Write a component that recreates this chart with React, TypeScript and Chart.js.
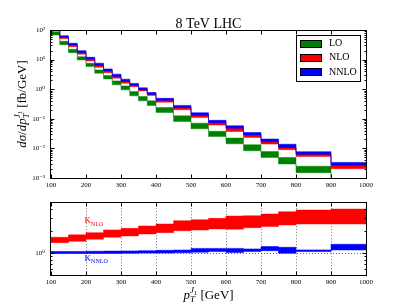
import React, { useEffect, useRef } from "react";
import { Chart, registerables } from "chart.js";
Chart.register(...registerables);

const SERIF = "'Liberation Serif', 'DejaVu Serif', 'Times New Roman', serif";

// ---------------- DATA ----------------
const binEdges = [100, 125, 150, 175, 200, 225, 250, 275, 300, 325, 350, 375, 400, 450, 500, 550, 600, 650, 700, 750, 800, 900, 1000];

const loLow = [67.8, 31.9, 17.2, 9.75, 5.79, 3.47, 2.23, 1.40, 0.95, 0.596, 0.404, 0.281, 0.163, 0.081, 0.0459, 0.0253, 0.0143, 0.0083, 0.00495, 0.00297, 0.00151, 0.00055];
const loHigh = [87.7, 41.6, 22.3, 12.6, 7.54, 4.48, 2.88, 1.91, 1.29, 0.832, 0.564, 0.404, 0.240, 0.126, 0.0714, 0.0378, 0.0223, 0.0133, 0.00789, 0.00495, 0.00250, 0.00088];

const nloLow = [108, 50.9, 27.4, 15.2, 9.02, 5.52, 3.63, 2.35, 1.60, 1.22, 0.877, 0.610, 0.365, 0.201, 0.110, 0.0612, 0.0372, 0.0234, 0.0140, 0.0090, 0.00531, 0.00206];
const nloHigh = [140, 59.4, 33.0, 18.5, 11.1, 6.76, 4.37, 2.88, 1.95, 1.43, 1.03, 0.735, 0.461, 0.259, 0.144, 0.0791, 0.0508, 0.0295, 0.0177, 0.0114, 0.00659, 0.00281];

const nnloLow = [125, 56.8, 31.2, 17.4, 10.5, 6.45, 4.15, 2.71, 1.84, 1.35, 0.948, 0.668, 0.420, 0.238, 0.133, 0.0731, 0.0478, 0.0282, 0.0168, 0.0107, 0.00634, 0.00270];
const nnloHigh = [150, 64.2, 35.6, 20.0, 12.0, 7.54, 4.84, 3.21, 2.18, 1.57, 1.11, 0.769, 0.490, 0.284, 0.159, 0.0889, 0.0580, 0.0344, 0.0207, 0.0138, 0.00771, 0.00336];

const ratioEdges = [100, 150, 200, 250, 300, 350, 400, 450, 500, 550, 600, 650, 700, 750, 800, 900, 1000];
const kNloLow = [1.39, 1.45, 1.55, 1.65, 1.72, 1.83, 1.91, 2.03, 2.07, 2.15, 2.13, 2.23, 2.31, 2.43, 2.51, 2.51];
const kNloHigh = [1.65, 1.78, 1.91, 2.08, 2.19, 2.36, 2.51, 2.79, 2.88, 3.0, 3.23, 3.26, 3.44, 3.70, 3.91, 4.03];
const kNnloLow = [0.985, 0.99, 0.99, 0.99, 0.995, 1.0, 1.0, 1.01, 1.03, 1.05, 1.02, 1.05, 1.08, 0.995, 1.05, 1.105];
const kNnloHigh = [1.05, 1.055, 1.06, 1.065, 1.07, 1.08, 1.09, 1.10, 1.16, 1.16, 1.16, 1.14, 1.23, 1.20, 1.105, 1.32];

const xTicks = [100, 200, 300, 400, 500, 600, 700, 800, 900, 1000];
const yTicksTop = [1e-3, 1e-2, 1e-1, 1, 10, 100];
const yTickLabelsTop = ["10⁻³", "10⁻²", "10⁻¹", "10⁰", "10¹", "10²"];
const yTicksBottom = [1];
const yTickLabelsBottom = ["10⁰"];

const seriesNames = ["LO", "NLO", "NNLO"];
const seriesColors = ["#008000", "#ff0000", "#0000ff"];
const seriesEdges = ["rgba(0,128,0,0.45)", "rgba(255,0,0,0.45)", "rgba(0,0,255,0.55)"];
const titleText = "8 TeV LHC";

// ---------------- HELPERS ----------------
function stepPoints(edges: number[], vals: number[]) {
  const pts = vals.map((v, i) => ({ x: edges[i], y: v }));
  pts.push({ x: edges[edges.length - 1], y: vals[vals.length - 1] });
  return pts;
}

function bandDatasets(edges: number[], low: number[], high: number[], color: string, edge: string) {
  const common = {
    stepped: "before" as const,
    pointRadius: 0,
    borderWidth: 1,
    borderColor: edge,
    clip: 0,
    parsing: false as const,
  };
  return [
    { ...common, data: stepPoints(edges, low), fill: false },
    { ...common, data: stepPoints(edges, high), fill: "-1", backgroundColor: color },
  ];
}

type Part = { t: string; size: number; it?: boolean; dy?: number; stack?: boolean; max?: boolean };

function layoutRich(ctx: CanvasRenderingContext2D, parts: Part[]) {
  let cx = 0, maxX = 0, lastStart = 0;
  const items: { p: Part; sx: number }[] = [];
  for (const p of parts) {
    ctx.font = `${p.it ? "italic " : ""}${p.size}px ${SERIF}`;
    const w = ctx.measureText(p.t).width;
    let sx: number;
    if (p.stack) sx = lastStart;
    else if (p.max) sx = maxX;
    else sx = cx;
    cx = sx + w;
    maxX = Math.max(maxX, cx);
    lastStart = sx;
    items.push({ p, sx });
  }
  return { items, width: maxX };
}

function drawRich(ctx: CanvasRenderingContext2D, parts: Part[], x: number, y: number, color: string, center: boolean) {
  const { items, width } = layoutRich(ctx, parts);
  const ox = center ? x - width / 2 : x;
  ctx.fillStyle = color;
  ctx.textBaseline = "alphabetic";
  ctx.textAlign = "left";
  for (const { p, sx } of items) {
    ctx.font = `${p.it ? "italic " : ""}${p.size}px ${SERIF}`;
    ctx.fillText(p.t, ox + sx, y + (p.dy || 0));
  }
}

function logMinor(min: number, max: number) {
  const out: number[] = [];
  for (let d = -4; d <= 3; d++) {
    for (let m = 2; m <= 9; m++) {
      const v = m * Math.pow(10, d);
      if (v > min * 1.0001 && v < max * 0.9999) out.push(v);
    }
  }
  return out;
}

function drawFrameTicks(chart: any, yMajor: number[], yMin: number, yMax: number) {
  const { ctx, chartArea: a, scales } = chart;
  const xs = scales.x, ys = scales.y;
  const L = Math.round(a.left) - 0.5, R = Math.round(a.right) + 0.5;
  const T = Math.round(a.top) + 0.5, B = Math.round(a.bottom) + 0.5;
  ctx.save();
  ctx.strokeStyle = "#000";
  ctx.lineWidth = 1;
  ctx.beginPath();
  for (const v of xTicks) {
    const px = Math.round(xs.getPixelForValue(v)) + 0.5;
    ctx.moveTo(px, B); ctx.lineTo(px, B - 4);
    ctx.moveTo(px, T); ctx.lineTo(px, T + 4);
  }
  for (const v of yMajor) {
    const py = Math.round(ys.getPixelForValue(v)) + 0.5;
    ctx.moveTo(L, py); ctx.lineTo(L + 4, py);
    ctx.moveTo(R, py); ctx.lineTo(R - 4, py);
  }
  for (const v of logMinor(yMin, yMax)) {
    const py = Math.round(ys.getPixelForValue(v)) + 0.5;
    ctx.moveTo(L, py); ctx.lineTo(L + 2, py);
    ctx.moveTo(R, py); ctx.lineTo(R - 2, py);
  }
  ctx.stroke();
  ctx.strokeRect(L, T, R - L, B - T);
  ctx.restore();
}

const axisTitleParts = (unit: string): Part[] => [
  { t: "p", size: 13, it: true },
  { t: "T", size: 9, it: true, dy: 3 },
  { t: "J", size: 9, it: true, dy: -6, stack: true },
  { t: "1", size: 6.5, dy: -4 },
  { t: unit, size: 13, max: true },
];

const topDecor = {
  id: "topDecor",
  afterDraw(chart: any) {
    const { ctx, chartArea: a } = chart;
    drawFrameTicks(chart, yTicksTop, 1e-3, 1e2);
    ctx.save();
    // title
    ctx.fillStyle = "#000";
    ctx.font = `14px ${SERIF}`;
    ctx.textAlign = "center";
    ctx.textBaseline = "alphabetic";
    ctx.fillText(titleText, (a.left + a.right) / 2, 28);
    // y title
    ctx.translate(26, (a.top + a.bottom) / 2);
    ctx.rotate(-Math.PI / 2);
    const yParts: Part[] = [
      { t: "d", size: 13, it: true },
      { t: "σ", size: 13, it: true },
      { t: "/", size: 13 },
      { t: "d", size: 13, it: true },
      ...axisTitleParts(" [fb/GeV]"),
    ];
    drawRich(ctx, yParts, 0, 0, "#000", true);
    ctx.restore();
    // legend
    ctx.save();
    const bx = 296.5, by = 35.5, bw = 64, bh = 46;
    ctx.fillStyle = "#fff";
    ctx.fillRect(bx, by, bw, bh);
    ctx.strokeStyle = "#000";
    ctx.lineWidth = 1;
    ctx.strokeRect(bx, by, bw, bh);
    ctx.font = `10px ${SERIF}`;
    ctx.textBaseline = "middle";
    ctx.textAlign = "left";
    seriesNames.forEach((name, i) => {
      const cy = 43 + i * 14.3;
      ctx.fillStyle = seriesColors[i];
      ctx.fillRect(300.5, Math.round(cy - 3.5) + 0.5, 21, 7);
      ctx.strokeRect(300.5, Math.round(cy - 3.5) + 0.5, 21, 7);
      ctx.fillStyle = "#000";
      ctx.fillText(name, 329, cy + 0.5);
    });
    ctx.restore();
  },
};

const bottomDecor = {
  id: "bottomDecor",
  beforeDatasetsDraw(chart: any) {
    const { ctx, chartArea: a, scales } = chart;
    ctx.save();
    ctx.strokeStyle = "rgba(0,0,0,0.55)";
    ctx.lineWidth = 1;
    ctx.setLineDash([1, 2]);
    ctx.beginPath();
    for (const v of xTicks.slice(1, -1)) {
      const px = Math.round(scales.x.getPixelForValue(v)) + 0.5;
      ctx.moveTo(px, a.top); ctx.lineTo(px, a.bottom);
    }
    for (const v of yTicksBottom) {
      const py = Math.round(scales.y.getPixelForValue(v)) + 0.5;
      ctx.moveTo(a.left, py); ctx.lineTo(a.right, py);
    }
    ctx.stroke();
    ctx.restore();
  },
  afterDraw(chart: any) {
    const { ctx, chartArea: a, scales } = chart;
    drawFrameTicks(chart, yTicksBottom, 0.5, 5);
    ctx.save();
    const lx = scales.x.getPixelForValue(196);
    drawRich(ctx, [{ t: "K", size: 9 }, { t: "NLO", size: 6, dy: 2.5 }], lx, scales.y.getPixelForValue(2.56), "#ff0000", false);
    drawRich(ctx, [{ t: "K", size: 9 }, { t: "NNLO", size: 6, dy: 2.5 }], lx, scales.y.getPixelForValue(0.79), "#0000ff", false);
    drawRich(ctx, axisTitleParts(" [GeV]"), (a.left + a.right) / 2, chart.height - 6, "#000", true);
    ctx.restore();
  },
};

const tickFont = { family: SERIF, size: 7 };

function xScale(height: number) {
  return {
    type: "linear" as const,
    min: 100,
    max: 1000,
    afterBuildTicks: (s: any) => { s.ticks = xTicks.map((v) => ({ value: v })); },
    afterFit: (s: any) => { s.height = height; },
    grid: { display: false, drawTicks: false },
    border: { display: false },
    ticks: { font: tickFont, color: "#000", padding: 3, maxRotation: 0, autoSkip: false, callback: (v: any) => String(v) },
  };
}

function yScale(min: number, max: number, vals: number[], labels: string[]) {
  return {
    type: "logarithmic" as const,
    min,
    max,
    afterBuildTicks: (s: any) => { s.ticks = vals.map((v) => ({ value: v })); },
    afterFit: (s: any) => { s.width = 51; },
    grid: { display: false, drawTicks: false },
    border: { display: false },
    ticks: {
      font: tickFont,
      color: "#000",
      padding: 6,
      autoSkip: false,
      callback: (v: any) => {
        const i = vals.findIndex((t) => Math.abs(t - v) / t < 1e-6);
        return i >= 0 ? labels[i] : "";
      },
    },
  };
}

export default function App() {
  const topRef = useRef<HTMLCanvasElement>(null);
  const botRef = useRef<HTMLCanvasElement>(null);

  useEffect(() => {
    const top = new Chart(topRef.current as HTMLCanvasElement, {
      type: "line",
      data: {
        datasets: [
          ...bandDatasets(binEdges, nnloLow, nnloHigh, seriesColors[2], seriesEdges[2]),
          ...bandDatasets(binEdges, nloLow, nloHigh, seriesColors[1], seriesEdges[1]),
          ...bandDatasets(binEdges, loLow, loHigh, seriesColors[0], seriesEdges[0]),
        ] as any,
      },
      options: {
        animation: false,
        responsive: false,
        maintainAspectRatio: false,
        layout: { padding: { left: 0, right: 41, top: 30, bottom: 0 } },
        plugins: { legend: { display: false }, title: { display: false }, tooltip: { enabled: false } },
        scales: {
          x: xScale(14),
          y: yScale(1e-3, 1e2, yTicksTop, yTickLabelsTop),
        } as any,
      },
      plugins: [topDecor],
    });
    const bot = new Chart(botRef.current as HTMLCanvasElement, {
      type: "line",
      data: {
        datasets: [
          ...bandDatasets(ratioEdges, kNnloLow, kNnloHigh, seriesColors[2], seriesEdges[2]),
          ...bandDatasets(ratioEdges, kNloLow, kNloHigh, seriesColors[1], seriesEdges[1]),
        ] as any,
      },
      options: {
        animation: false,
        responsive: false,
        maintainAspectRatio: false,
        layout: { padding: { left: 0, right: 41, top: 9, bottom: 0 } },
        plugins: { legend: { display: false }, title: { display: false }, tooltip: { enabled: false } },
        scales: {
          x: xScale(30),
          y: yScale(0.5, 5, yTicksBottom, yTickLabelsBottom),
        } as any,
      },
      plugins: [bottomDecor],
    });
    return () => {
      top.destroy();
      bot.destroy();
    };
  }, []);

  return (
    <div style={{ position: "fixed", left: 0, top: 0, width: 407, height: 305, background: "#fff" }}>
      <canvas ref={topRef} width={407} height={192} style={{ position: "absolute", left: 0, top: 0, width: 407, height: 192 }} />
      <canvas ref={botRef} width={407} height={113} style={{ position: "absolute", left: 0, top: 192, width: 407, height: 113 }} />
    </div>
  );
}
